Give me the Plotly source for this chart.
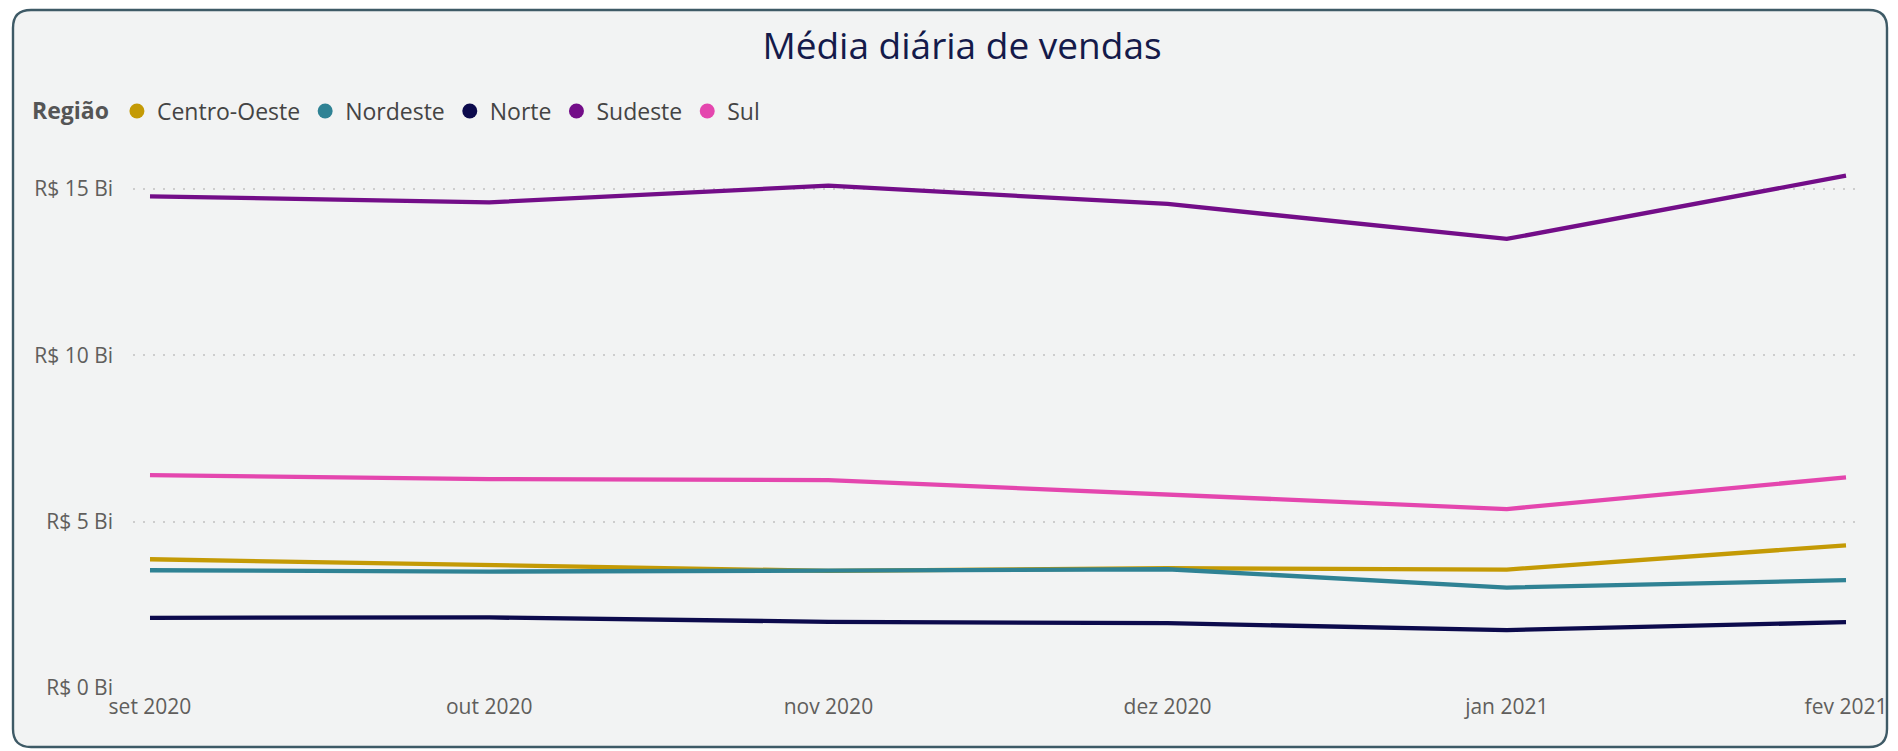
import plotly.graph_objects as go

# ---- data ----
months = ["set 2020", "out 2020", "nov 2020", "dez 2020", "jan 2021", "fev 2021"]
regions = ["Centro-Oeste", "Nordeste", "Norte", "Sudeste", "Sul"]
centro_oeste = [3.87, 3.70, 3.52, 3.60, 3.56, 4.29]
nordeste = [3.54, 3.50, 3.53, 3.57, 3.02, 3.24]
norte = [2.11, 2.12, 1.99, 1.95, 1.74, 1.98]
sudeste = [14.78, 14.60, 15.10, 14.55, 13.50, 15.40]
sul = [6.40, 6.28, 6.25, 5.80, 5.38, 6.33]
y_ticks = [0, 5, 10, 15]
y_tick_labels = ["R$ 0 Bi", "R$ 5 Bi", "R$ 10 Bi", "R$ 15 Bi"]
title_text = "Média diária de vendas"
legend_title = "Região"

series = [centro_oeste, nordeste, norte, sudeste, sul]
colors = ["#C49A05", "#2F8294", "#0C0A4C", "#730D88", "#E446AE"]

W, H = 1898, 751
PL, PR, PT, PB = 133, 1857, 135, 688  # plot area in px
Y15 = 189
FONT = "Open Sans"

fig = go.Figure()
xs = list(range(len(months)))
for name, vals, col in zip(regions, series, colors):
    fig.add_trace(go.Scatter(x=xs, y=vals, mode="lines", name=name,
                             line=dict(color=col, width=4.3),
                             showlegend=False, hoverinfo="x+y+name"))
for name, col in zip(regions, colors):
    fig.add_trace(go.Scatter(x=[None], y=[None], mode="markers", name=name,
                             marker=dict(color=col, size=15, symbol="circle"),
                             showlegend=True))

def px2paper(px, py):
    return (px - PL) / (PR - PL), (PB - py) / (PB - PT)

# rounded card
x0, y0, x1, y1, r = 13, 10, 1887, 747, 18
def P(px, py):
    a, b = px2paper(px, py)
    return f"{a:.6f},{b:.6f}"
path = (f"M {P(x0 + r, y0)} L {P(x1 - r, y0)} Q {P(x1, y0)} {P(x1, y0 + r)} "
        f"L {P(x1, y1 - r)} Q {P(x1, y1)} {P(x1 - r, y1)} "
        f"L {P(x0 + r, y1)} Q {P(x0, y1)} {P(x0, y1 - r)} "
        f"L {P(x0, y0 + r)} Q {P(x0, y0)} {P(x0 + r, y0)} Z")
fig.add_shape(type="path", path=path, xref="paper", yref="paper",
              fillcolor="#F2F3F3", line=dict(color="#3E5A66", width=2.4),
              layer="below")

lx, ly = px2paper(30, 111)
n = len(months)
spacing = (1846 - 150) / (n - 1)
fig.update_layout(
    width=W, height=H,
    margin=dict(l=PL, r=W - PR, t=PT, b=H - PB, pad=0),
    paper_bgcolor="white", plot_bgcolor="rgba(0,0,0,0)",
    font=dict(family=FONT, color="#605E5C"),
    title=dict(text=title_text, x=962 / W, xanchor="center",
               y=1 - 46 / H, yanchor="middle",
               font=dict(family=FONT, size=37, color="#141A4A")),
    showlegend=True,
    legend=dict(orientation="h", x=lx, xanchor="left", y=ly, yanchor="middle",
                title=dict(text=f"<b>{legend_title}</b>", side="left",
                           font=dict(family=FONT, size=23, color="#555555")),
                font=dict(family=FONT, size=23, color="#444444"),
                bgcolor="rgba(0,0,0,0)", itemwidth=30, tracegroupgap=0),
    xaxis=dict(range=[-(150 - PL) / spacing, n - 1 + (PR - 1846) / spacing],
               tickvals=xs, ticktext=months,
               showgrid=False, zeroline=False, showline=False,
               tickfont=dict(family=FONT, size=21, color="#605E5C"),
               ticks="", ticklabelstandoff=4),
    yaxis=dict(range=[0, (PB - PT) / ((PB - Y15) / 15)], tickvals=y_ticks,
               ticktext=y_tick_labels, showgrid=True, gridcolor="#CDCDCD",
               griddash="2px,8px", gridwidth=1.6, zeroline=False, showline=False,
               tickfont=dict(family=FONT, size=21, color="#605E5C"),
               ticks="", ticklabelstandoff=19),
)

fig.write_html("out.html", config={"displayModeBar": False},
               post_script="document.body.style.margin='0';")
